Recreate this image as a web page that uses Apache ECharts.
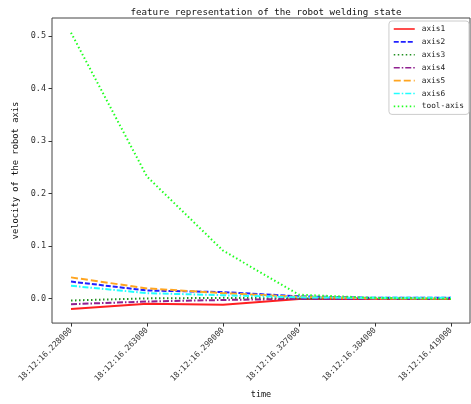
<!DOCTYPE html>
<html><head><meta charset="utf-8">
<script src="https://cdn.jsdelivr.net/npm/echarts@6/dist/echarts.min.js"></script>
<style>html,body{margin:0;padding:0;background:#fff}#c{width:471px;height:404px}</style>
</head><body><div id="c"></div>
<script>
const categories = ["18:12:16.228000","18:12:16.263000","18:12:16.290000","18:12:16.327000","18:12:16.384000","18:12:16.419000"];
const axis1 = [-0.020, -0.010, -0.012, -0.001, -0.001, -0.001];
const axis2 = [0.032, 0.015, 0.012, 0.004, 0.001, 0.001];
const axis3 = [-0.004, 0.000, 0.001, 0.000, 0.000, 0.000];
const axis4 = [-0.011, -0.006, -0.003, -0.001, -0.001, -0.001];
const axis5 = [0.040, 0.019, 0.010, 0.003, 0.000, 0.000];
const axis6 = [0.024, 0.010, 0.006, 0.002, 0.001, 0.001];
const toolAxis = [0.506, 0.232, 0.091, 0.007, 0.001, -0.001];
const yTicks = [0, 0.1, 0.2, 0.3, 0.4, 0.5];
const xTicks = [0, 1, 2, 3, 4, 5];

const FONT = "DejaVu Sans Mono";
const seriesDefs = [
  {name:"axis1", data:axis1, color:"#ff2020", type:"solid"},
  {name:"axis2", data:axis2, color:"#2020ff", type:[5,2]},
  {name:"axis3", data:axis3, color:"#209020", type:[1.5,2.5]},
  {name:"axis4", data:axis4, color:"#902090", type:[6,2,1.5,2]},
  {name:"axis5", data:axis5, color:"#ffa520", type:[7,3]},
  {name:"axis6", data:axis6, color:"#20ffff", type:[6,2,1.5,2]},
  {name:"tool-axis", data:toolAxis, color:"#20ff20", type:[1.5,2.5]}
];
const chart = echarts.init(document.getElementById('c'));
chart.setOption({
  animation:false,
  backgroundColor:'#fff',
  title:{text:"feature representation of the robot welding state", left:261, top:3, textAlign:'center',
    textStyle:{fontFamily:FONT, fontSize:9.2, fontWeight:'normal', color:'#111'}},
  grid:{left:52, right:1, top:18, bottom:74, show:true, borderColor:'#444', borderWidth:1, backgroundColor:'transparent'},
  legend:{orient:'vertical', right:2, top:21, padding:[4,5,4,4], itemWidth:21, itemHeight:8, itemGap:4.9,
    borderColor:'#ccc', borderWidth:1, borderRadius:3, backgroundColor:'rgba(255,255,255,0.8)',
    itemStyle:{opacity:0, borderWidth:0},
    lineStyle:{width:1.6},
    textStyle:{fontFamily:FONT, fontSize:7.8, color:'#222', padding:[0,0,0,2]},
    data: seriesDefs.map(s=>s.name)},
  xAxis:{type:'value', min:-0.25, max:5.25, name:'time', nameLocation:'middle', nameGap:66,
    nameTextStyle:{fontFamily:FONT, fontSize:8.5, color:'#111'},
    splitLine:{show:false},
    axisLine:{show:false, onZero:false},
    axisTick:{show:true, length:3.5, lineStyle:{color:'#333'}, customValues:xTicks},
    axisLabel:{customValues:xTicks, rotate:45, fontFamily:FONT, fontSize:8, color:'#333', margin:6,
      formatter:v=>categories[Math.round(v)]}},
  yAxis:{type:'value', min:-0.047, max:0.534, name:'velocity of the robot axis', nameLocation:'middle', nameGap:31,
    nameTextStyle:{fontFamily:FONT, fontSize:8.8, color:'#111'},
    splitLine:{show:false},
    axisLine:{show:false, onZero:false},
    axisTick:{show:true, length:3.5, lineStyle:{color:'#333'}, customValues:yTicks},
    axisLabel:{customValues:yTicks, fontFamily:FONT, fontSize:8.5, color:'#333', margin:6,
      formatter:v=>v.toFixed(1)}},
  series: seriesDefs.map(s=>({
    name:s.name, type:'line', symbol:'none', showSymbol:false,
    data:s.data.map((v,i)=>[xTicks[i], v]),
    itemStyle:{color:s.color},
    lineStyle:{color:s.color, width:2, type:s.type}
  }))
});
</script></body></html>
